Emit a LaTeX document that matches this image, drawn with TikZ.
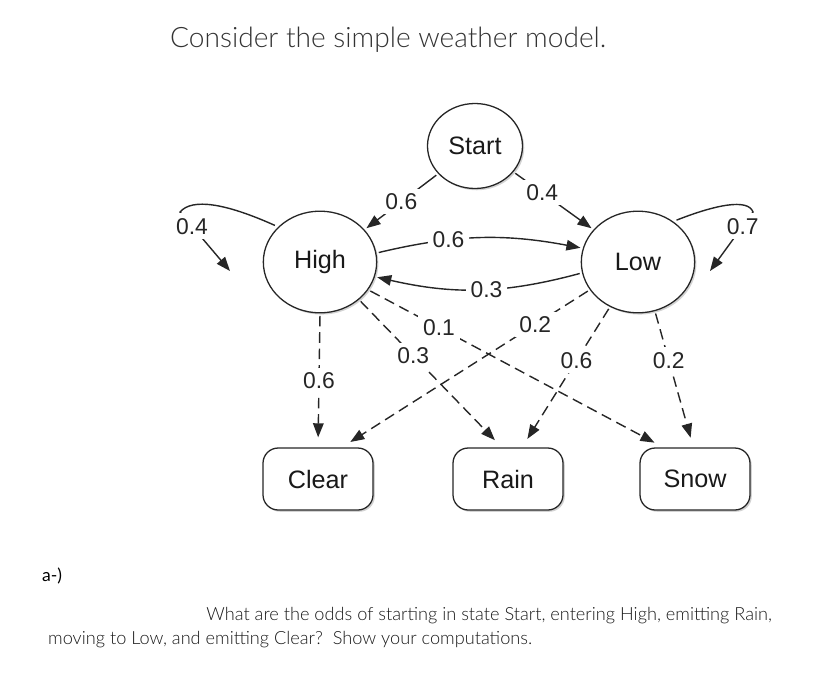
\documentclass[tikz,border=0pt]{standalone}
\usepackage{fontspec}
\setmainfont{Lato}
\newfontfamily\lightfont{Lato Light}
\newfontfamily\diagfont{Liberation Sans}
\usetikzlibrary{shapes.geometric, arrows.meta, shadows}

\begin{document}
\begin{tikzpicture}[x=0.03cm, y=-0.03cm,
    state/.style={ellipse, draw=black!85, line width=1.1pt, fill=white, inner sep=0pt,
        drop shadow={opacity=0.35, shadow xshift=1.5pt, shadow yshift=-1.5pt},
        font=\diagfont\fontsize{21.5}{24}\selectfont, text=black!90},
    output/.style={rectangle, rounded corners=13pt, draw=black!85, line width=1.1pt, fill=white,
        minimum width=3.3cm, minimum height=1.86cm,
        drop shadow={opacity=0.35, shadow xshift=1.5pt, shadow yshift=-1.5pt},
        font=\diagfont\fontsize{21.5}{24}\selectfont, text=black!90},
    trans/.style={draw=black!85, line width=1.2pt, -{Triangle[length=12pt, width=9pt]}},
    emis/.style={trans, dash pattern=on 9pt off 5pt},
    prob/.style={fill=white, inner sep=4pt, font=\diagfont\fontsize{19.5}{21}\selectfont, text=black!85}]

    \useasboundingbox (0,0) rectangle (837,690);

    % title
    \node (title) [anchor=west, font=\lightfont\fontsize{24}{28}\selectfont, text=black!80] at (166,40)
        {Consider the simple weather model.};

    % hidden states
    \node (start) [state, minimum width=2.85cm, minimum height=2.55cm] at (475,146) {Start};
    \node (high)  [state, minimum width=3.4cm, minimum height=3.05cm] at (320,262) {High};
    \node (low)   [state, minimum width=3.4cm, minimum height=3.05cm] at (638,262) {Low};

    % outputs
    \node (clear) [output] at (318,479) {Clear};
    \node (rain)  [output] at (508,479) {Rain};
    \node (snow)  [output] at (695,479) {Snow};

    % transitions
    \draw[trans, shorten <=2pt, shorten >=2pt] (start.217) -- node[prob, pos=0.5] {0.6} (high.36);
    \draw[trans, shorten <=2pt, shorten >=2pt] (start.-34) -- node[prob, pos=0.36] {0.4} (low.144);
    \draw[trans, shorten <=2pt, shorten >=2pt] (high.9) to[bend left=12] node[prob, pos=0.34] {0.6} (low.166);
    \draw[trans, shorten <=2pt, shorten >=2pt] (low.191) to[bend left=14] node[prob, pos=0.46] {0.3} (high.-15);
    \draw[trans, shorten <=3pt] (high.140) .. controls (225,203) and (192,198) .. (180,212)
        -- node[prob, pos=0.24] {0.4} (230,271);
    \draw[trans, shorten <=3pt] (low.49) .. controls (715,205) and (748,198) .. (753,212)
        -- node[prob, pos=0.24] {0.7} (710,271);

    % emissions
    \draw[emis, shorten <=2pt, shorten >=0.3cm] (high.south) -- node[prob, pos=0.5] {0.6} (clear.north);
    \draw[emis, shorten <=2pt, shorten >=0.3cm] (high.-44) -- node[prob, pos=0.38] {0.3} (rain.101);
    \draw[emis, shorten <=2pt, shorten >=0.3cm] (high.-30) -- node[prob, pos=0.24] {0.1} (snow.135);
    \draw[emis, shorten <=2pt, shorten >=0.3cm] (low.210) -- node[prob, pos=0.22] {0.2} (clear.53);
    \draw[emis, shorten <=2pt, shorten >=0.3cm] (low.238) -- node[prob, pos=0.38] {0.6} (rain.66);
    \draw[emis, shorten <=2pt, shorten >=0.3cm] (low.-71) -- node[prob, pos=0.36] {0.2} (snow.93);

    % question
    \node (part) [anchor=west, font=\fontsize{15}{18}\selectfont] at (38,576) {a-)};
    \node (question) [anchor=north west, align=left, font=\lightfont\fontsize{15.5}{20.5}\selectfont, text=black!90]
        at (44,603) {\hspace*{4.75cm}What are the odds of starting in state Start, entering High, emitting Rain,\\
        moving to Low, and emitting Clear?\ \ Show your computations.};

\end{tikzpicture}
\end{document}
